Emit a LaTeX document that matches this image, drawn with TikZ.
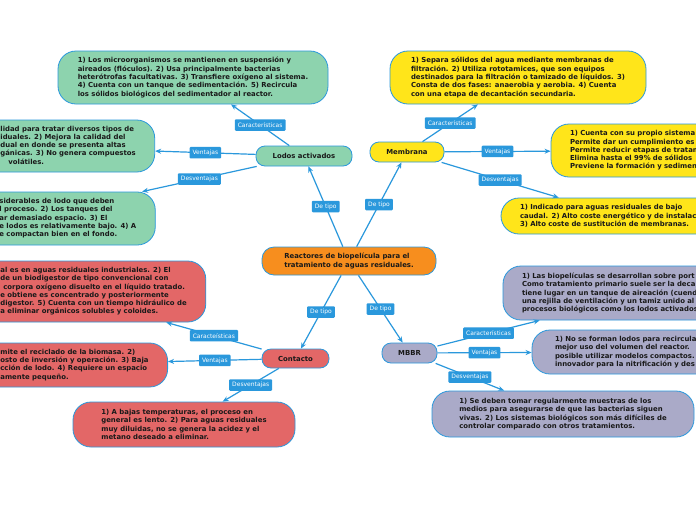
\documentclass[tikz,border=0pt]{standalone}
\usepackage{fontspec}
\setmainfont{DejaVu Sans}
\usetikzlibrary{arrows.meta}
\definecolor{linkblue}{HTML}{2A98DC}
\definecolor{lodosgreen}{HTML}{8DD3AE}
\definecolor{membyellow}{HTML}{FFE51A}
\definecolor{rootorange}{HTML}{F78E1E}
\definecolor{contred}{HTML}{E36767}
\definecolor{mbbrgrey}{HTML}{AAAAC8}
\begin{document}
\begin{tikzpicture}[x=1pt,y=-1pt,
    textbox/.style={draw=linkblue, line width=0.8pt, rounded corners=18pt, align=left,
      inner xsep=19pt, inner ysep=3pt, text=black!90, font=\fontsize{6.9}{8.3}\selectfont\bfseries},
    topicbox/.style={textbox, rounded corners=9pt, inner xsep=3pt},
    tagbox/.style={fill=linkblue, text=white, rounded corners=1pt, inner xsep=3pt, inner ysep=0pt,
      minimum height=11.5pt, font=\fontsize{6}{7}\selectfont},
    linkline/.style={draw=linkblue, line width=1.2pt, -{Stealth[length=6pt,width=5pt]}}]
    \useasboundingbox (0,0) rectangle (696,520);
    \fill[white] (0,0) rectangle (696,520);
    \clip (0,0) rectangle (696,520);

    % main topics
    \node[topicbox, fill=rootorange, minimum width=174pt, minimum height=28pt, rounded corners=12pt] (root) at (349,261)
        {Reactores de biopelícula para el\\tratamiento de aguas residuales.};
    \node[topicbox, fill=lodosgreen, minimum width=96pt, minimum height=20pt] (lodos) at (304,156) {Lodos activados};
    \node[topicbox, fill=membyellow, minimum width=74pt, minimum height=20pt] (membrana) at (407,152) {Membrana};
    \node[topicbox, fill=contred, minimum width=67pt, minimum height=19pt] (contacto) at (295.5,358.5) {Contacto};
    \node[topicbox, fill=mbbrgrey, minimum width=55pt, minimum height=20pt] (mbbr) at (409.5,353) {MBBR};

    % lodos activados
    \node[textbox, fill=lodosgreen, minimum width=270pt, minimum height=53pt] (lodosC) at (193,77.5)
        {1) Los microorganismos se mantienen en suspensión y\\
         aireados (flóculos). 2) Usa principalmente bacterias\\
         heterótrofas facultativas. 3) Transfiere oxígeno al sistema.\\
         4) Cuenta con un tanque de sedimentación. 5) Recircula\\
         los sólidos biológicos del sedimentador al reactor.};
    \node[textbox, fill=lodosgreen, anchor=west, minimum height=52pt] (lodosV) at (-150,146)
        {\begin{tabular}{@{\hspace{131pt}}l@{}}
         lidad para tratar diversos tipos de\\
         iduales. 2) Mejora la calidad del\\
         dual en donde se presenta altas\\
         gánicas. 3) No genera compuestos\\
         \hspace*{8pt}volátiles.
         \end{tabular}};
    \node[textbox, fill=lodosgreen, anchor=west, minimum height=53pt] (lodosD) at (-116,218.5)
        {\begin{tabular}{@{\hspace{96pt}}l@{}}
         siderables de lodo que deben\\
         l proceso. 2) Los tanques del\\
         ar demasiado espacio. 3) El\\
         e lodos es relativamente bajo. 4) A\\
         e compactan bien en el fondo.
         \end{tabular}};

    % membrana
    \node[textbox, fill=membyellow, minimum width=256pt, minimum height=53pt] (membranaC) at (518,77.5)
        {1) Separa sólidos del agua mediante membranas de\\
         filtración. 2) Utiliza rototamices, que son equipos\\
         destinados para la filtración o tamizado de líquidos. 3)\\
         Consta de dos fases: anaerobia y aerobia. 4) Cuenta\\
         con una etapa de decantación secundaria.};
    \node[textbox, fill=membyellow, text width=211pt, minimum height=53pt] (membranaV) at (675.5,150.5)
        {1) Cuenta con su propio sistema\\
         Permite dar un cumplimiento es\\
         Permite reducir etapas de tratam\\
         Elimina hasta el 99\% de sólidos\\
         Previene la formación y sedimen};
    \node[textbox, fill=membyellow, text width=200pt, minimum height=36pt] (membranaD) at (620,216)
        {1) Indicado para aguas residuales de bajo\\
         caudal. 2) Alto coste energético y de instalac\\
         3) Alto coste de sustitución de membranas.};

    % contacto
    \node[textbox, fill=contred, anchor=west, minimum height=61pt] (contactoC) at (-95,291.5)
        {\begin{tabular}{@{\hspace{76pt}}l@{}}
         al es en aguas residuales industriales. 2) El\\
         de un biodigestor de tipo convencional con\\
         \hspace*{3pt}corpora oxígeno disuelto en el líquido tratado.\\
         e obtiene es concentrado y posteriormente\\
         digestor. 5) Cuenta con un tiempo hidráulico de\\
         a eliminar orgánicos solubles y coloides.
         \end{tabular}};
    \node[textbox, fill=contred, anchor=west, minimum height=44pt] (contactoV) at (-128,365)
        {\begin{tabular}{@{\hspace{109pt}}l@{}}
         mite el reciclado de la biomasa. 2)\\
         osto de inversión y operación. 3) Baja\\
         cción de lodo. 4) Requiere un espacio\\
         amente pequeño.
         \end{tabular}};
    \node[textbox, fill=contred, minimum width=222pt, minimum height=45pt] (contactoD) at (184,424.5)
        {1) A bajas temperaturas, el proceso en\\
         general es lento. 2) Para aguas residuales\\
         muy diluidas, no se genera la acidez y el\\
         metano deseado a eliminar.};

    % mbbr
    \node[textbox, fill=mbbrgrey, text width=254pt, minimum height=54pt] (mbbrC) at (649,293)
        {1) Las biopelículas se desarrollan sobre port\\
         Como tratamiento primario suele ser la deca\\
         tiene lugar en un tanque de aireación (cuend\\
         una rejilla de ventilación y un tamiz unido al\\
         procesos biológicos como los lodos activados};
    \node[textbox, fill=mbbrgrey, text width=210pt, minimum height=44pt] (mbbrV) at (656,352)
        {\hspace*{4pt}1) No se forman lodos para recircula\\
         \hspace*{4pt}mejor uso del volumen del reactor.\\
         \hspace*{4pt}posible utilizar modelos compactos.\\
         \hspace*{4pt}innovador para la nitrificación y des};
    \node[textbox, fill=mbbrgrey, minimum width=262pt, minimum height=46pt] (mbbrD) at (563,414)
        {1) Se deben tomar regularmente muestras de los\\
         medios para asegurarse de que las bacterias siguen\\
         vivas. 2) Los sistemas biológicos son más difíciles de\\
         controlar comparado con otros tratamientos.};

    % connectors
    \draw[linkline] (root) -- node[tagbox] {De tipo} (lodos);
    \draw[linkline] (root) -- node[tagbox] {De tipo} (membrana);
    \draw[linkline] (root) -- node[tagbox] {De tipo} (contacto);
    \draw[linkline] (root) -- node[tagbox] {De tipo} (mbbr);

    \draw[linkline] (lodos) -- node[tagbox] {Características} (lodosC);
    \draw[linkline] (lodos) -- node[tagbox] {Ventajas} (lodosV);
    \draw[linkline] (lodos) -- node[tagbox] {Desventajas} (lodosD);

    \draw[linkline] (membrana) -- node[tagbox] {Características} (membranaC);
    \draw[linkline] (membrana) -- node[tagbox] {Ventajas} (membranaV);
    \draw[linkline] (membrana) -- node[tagbox] {Desventajas} (membranaD);

    \draw[linkline] (contacto) -- node[tagbox] {Caracteísticas} (contactoC);
    \draw[linkline] (contacto) -- node[tagbox] {Ventajas} (contactoV);
    \draw[linkline] (contacto) -- node[tagbox] {Desventajas} (contactoD);

    \draw[linkline] (mbbr) -- node[tagbox] {Características} (mbbrC);
    \draw[linkline] (mbbr) -- node[tagbox] {Ventajas} (mbbrV);
    \draw[linkline] (mbbr) -- node[tagbox] {Desventajas} (mbbrD);
\end{tikzpicture}
\end{document}
